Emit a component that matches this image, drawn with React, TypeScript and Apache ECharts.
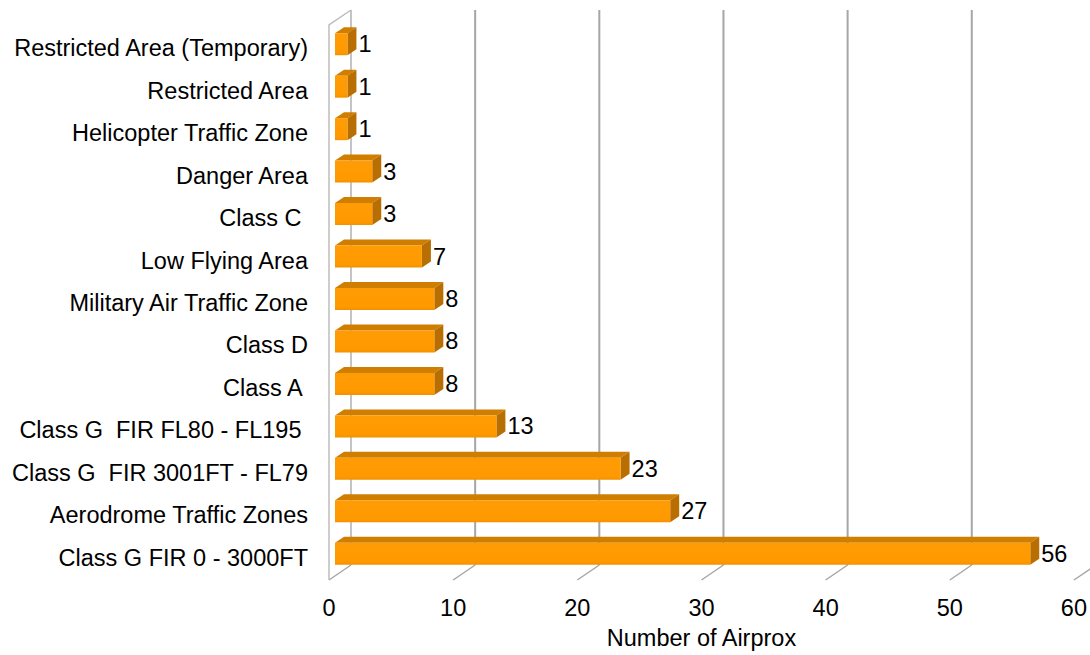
import React, { useEffect, useRef } from "react";
import * as echarts from "echarts";

const categories: string[] = [
  "Restricted Area (Temporary)",
  "Restricted Area",
  "Helicopter Traffic Zone",
  "Danger Area",
  "Class C ",
  "Low Flying Area",
  "Military Air Traffic Zone",
  "Class D",
  "Class A ",
  "Class G  FIR FL80 - FL195 ",
  "Class G  FIR 3001FT - FL79",
  "Aerodrome Traffic Zones",
  "Class G FIR 0 - 3000FT",
];
const values: number[] = [1, 1, 1, 3, 3, 7, 8, 8, 8, 13, 23, 27, 56];
const ticks: number[] = [0, 10, 20, 30, 40, 50, 60];
const axisTitle = "Number of Airprox";

const FONT = "'Liberation Sans', Arial, sans-serif";
const FS = 23.5;
const DX = 22; // wall depth
const DY = -15;

export default function App() {
  const ref = useRef<HTMLDivElement>(null);
  useEffect(() => {
    if (!ref.current) return;
    const chart = echarts.init(ref.current, null, { renderer: "svg" });
    const option: any = {
      animation: false,
      backgroundColor: "#ffffff",
      textStyle: { fontFamily: FONT },
      grid: { left: 329, right: 15, top: 27, bottom: 76, containLabel: false },
      xAxis: {
        type: "value",
        min: 0,
        max: 60,
        interval: 10,
        axisLine: { show: false },
        axisTick: { show: false },
        splitLine: { show: false },
        axisLabel: { fontSize: FS, color: "#000", margin: 17, fontFamily: FONT },
        name: axisTitle,
        nameLocation: "middle",
        nameGap: 47,
        nameTextStyle: { fontSize: FS, color: "#000", fontFamily: FONT },
      },
      yAxis: {
        type: "category",
        inverse: true,
        data: categories,
        axisLine: { show: false },
        axisTick: { show: false },
        splitLine: { show: false },
        axisLabel: { fontSize: FS, color: "#000", margin: 21, fontFamily: FONT },
      },
      series: [
        {
          type: "custom",
          z: 1,
          silent: true,
          data: ticks.map((t) => [t, 0]),
          encode: { x: 0, y: 1 },
          clip: false,
          renderItem: (params: any, api: any) => {
            const cs = params.coordSys;
            const t = api.value(0);
            const p = api.coord([t, 0]);
            const x = p[0];
            const bottom = cs.y + cs.height + 1;
            const children: any[] = [];
            if (x + DX < 1100) {
              children.push({
                type: "line",
                shape: { x1: x + DX, y1: cs.y - 17, x2: x + DX, y2: bottom + DY },
                style: { stroke: t === 0 ? "#b0b0b0" : "#a6a6a6", lineWidth: t === 0 ? 1.5 : 2 },
              });
            }
            children.push({
              type: "line",
              shape: { x1: x, y1: bottom, x2: x + DX, y2: bottom + DY },
              style: { stroke: "#a6a6a6", lineWidth: 1.5 },
            });
            if (t === 0) {
              children.push({
                type: "polyline",
                shape: {
                  points: [
                    [x, bottom],
                    [x, cs.y - 2],
                    [x + DX, cs.y - 17],
                  ],
                },
                style: { stroke: "#bdbdbd", lineWidth: 1.5, fill: null },
              });
            }
            return { type: "group", children };
          },
        },
        {
          type: "custom",
          z: 2,
          silent: true,
          data: values.map((v, i) => [v, i]),
          encode: { x: 0, y: 1 },
          clip: false,
          renderItem: (params: any, api: any) => {
            const v = api.value(0);
            const i = api.value(1);
            const p0 = api.coord([0, i]);
            const p1 = api.coord([v, i]);
            const off = 6;
            const cy = p0[1] - 4;
            const h = 22;
            const fx0 = p0[0] + off;
            const fx1 = p1[0] + off;
            const top = cy - h / 2;
            const bot = cy + h / 2;
            const dx = 9;
            const dy = -6;
            return {
              type: "group",
              children: [
                {
                  type: "polygon",
                  shape: {
                    points: [
                      [fx0, top],
                      [fx1, top],
                      [fx1 + dx, top + dy],
                      [fx0 + dx, top + dy],
                    ],
                  },
                  style: { fill: "#d07e00" },
                },
                {
                  type: "polygon",
                  shape: {
                    points: [
                      [fx1, top],
                      [fx1 + dx, top + dy],
                      [fx1 + dx, bot + dy],
                      [fx1, bot],
                    ],
                  },
                  style: { fill: "#b86e00" },
                },
                {
                  type: "rect",
                  shape: { x: fx0, y: top, width: fx1 - fx0, height: h },
                  style: {
                    fill: new echarts.graphic.LinearGradient(0, 0, 0, 1, [
                      { offset: 0, color: "#ff9c05" },
                      { offset: 0.85, color: "#ff9900" },
                      { offset: 1, color: "#f29100" },
                    ]),
                  },
                },
                {
                  type: "text",
                  x: fx1 + dx + 2,
                  y: cy,
                  style: {
                    text: String(v),
                    fill: "#000",
                    fontSize: FS,
                    fontFamily: FONT,
                    verticalAlign: "middle",
                    align: "left",
                  },
                },
              ],
            };
          },
        },
      ],
    };
    chart.setOption(option);
    return () => chart.dispose();
  }, []);
  return (
    <div
      ref={ref}
      style={{ position: "fixed", left: 0, top: 0, width: 1090, height: 655, background: "#fff" }}
    />
  );
}
